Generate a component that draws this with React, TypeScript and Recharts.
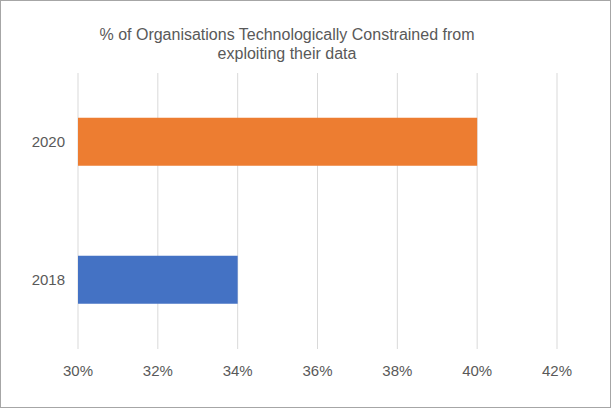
import { BarChart, Bar, XAxis, YAxis, CartesianGrid, Cell } from 'recharts';

const years = ['2020', '2018'];
const shareConstrained = [0.40, 0.34];
const barColors = ['#ED7D31', '#4472C4'];
const xTicks = [0.30, 0.32, 0.34, 0.36, 0.38, 0.40, 0.42];

const data = years.map((year, i) => ({ year, value: shareConstrained[i] }));
const fmtPct = (v: number) => `${Math.round(v * 100)}%`;
const FONT = '"Liberation Sans", Arial, sans-serif';

export default function App() {
    return (
        <div style={{ position: 'absolute', left: 0, top: 0, width: 611, height: 408, boxSizing: 'border-box', border: '1px solid #A6A6A6', background: '#fff', fontFamily: FONT }}>
            <div style={{ position: 'absolute', left: 0, top: 24, width: 572, textAlign: 'center', fontSize: 16, lineHeight: '19px', color: '#595959' }}>
                % of Organisations Technologically Constrained from<br />exploiting their data
            </div>
            <BarChart width={609} height={406} data={data} layout="vertical" barCategoryGap="32.5%"
                margin={{ top: 72, right: 53, left: 0, bottom: 27 }} style={{ position: 'absolute', left: 0, top: 0 }}>
                <CartesianGrid stroke="#D9D9D9" horizontal={false} />
                <XAxis type="number" domain={[0.30, 0.42]} ticks={xTicks} tickFormatter={fmtPct} allowDataOverflow
                    axisLine={false} tickLine={false} tickMargin={10} height={31}
                    tick={{ fontSize: 15, fill: '#595959', fontFamily: FONT }} />
                <YAxis type="category" dataKey="year" axisLine={false} tickLine={false} tickSize={0} tickMargin={13} width={77}
                    tick={{ fontSize: 15, fill: '#595959', fontFamily: FONT }} />
                <Bar dataKey="value" isAnimationActive={false}>
                    {data.map((d, i) => <Cell key={d.year} fill={barColors[i]} />)}
                </Bar>
            </BarChart>
        </div>
    );
}
